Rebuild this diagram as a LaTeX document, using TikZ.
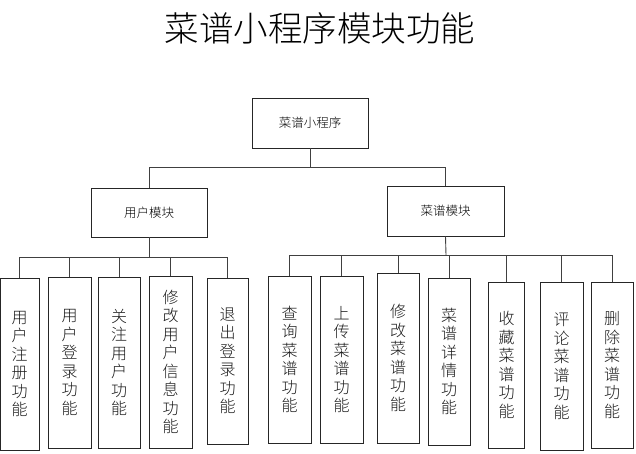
\documentclass[tikz,border=0pt]{standalone}
\usepackage{fontspec}
\newfontfamily\cjk{Noto Sans CJK SC}
\newfontfamily\cjkl{Noto Sans CJK SC Light}
\tikzset{
  box/.style={draw=black!85, line width=0.9pt, inner sep=0pt, align=center, font=\cjkl\fontsize{12.5}{14}\selectfont},
  leaf/.style={draw=black!85, line width=0.9pt, inner sep=0pt, align=center, font=\cjkl\fontsize{16}{18.5}\selectfont, text=black!90},
  conn/.style={draw=black!75, line width=0.9pt},
}
\begin{document}
\begin{tikzpicture}[x=1pt,y=-1pt]
\useasboundingbox (0,0) rectangle (636,453);
\node[font=\cjkl\fontsize{34.5}{38}\selectfont] (title) at (320,28) {菜谱小程序模块功能};
\node[box, minimum width=116pt, minimum height=50pt] (top) at (310,123) {菜谱小程序};
\node[box, minimum width=116pt, minimum height=49pt] (um) at (149,212.5) {用户模块};
\node[box, minimum width=117pt, minimum height=50pt] (rm) at (445.5,211) {菜谱模块};
\coordinate (b0) at (310,167);
\draw[conn] (top.south) -- (b0);
\draw[conn] (b0) -| (um.north);
\draw[conn] (b0) -| (rm.north);
% user leaves
\node[leaf, minimum width=39pt, minimum height=172pt] (l1) at (19.5,364) {用\\户\\注\\册\\功\\能};
\node[leaf, minimum width=43pt, minimum height=171pt] (l2) at (69.5,362.5) {用\\户\\登\\录\\功\\能};
\node[leaf, minimum width=42pt, minimum height=171pt] (l3) at (119,362.5) {关\\注\\用\\户\\功\\能};
\node[leaf, minimum width=43pt, minimum height=172pt] (l4) at (170.5,362) {修\\改\\用\\户\\信\\息\\功\\能};
\node[leaf, minimum width=41pt, minimum height=166pt] (l5) at (227.5,361) {退\\出\\登\\录\\功\\能};
\coordinate (b1) at (149,257);
\draw[conn] (um.south) -- (b1);
\foreach \n in {l1,l2,l3,l4,l5} \draw[conn] (b1) -| (\n.north);
% recipe leaves
\node[leaf, minimum width=43pt, minimum height=167pt] (r1) at (289.5,359.5) {查\\询\\菜\\谱\\功\\能};
\node[leaf, minimum width=43pt, minimum height=167pt] (r2) at (341.5,359.5) {上\\传\\菜\\谱\\功\\能};
\node[leaf, minimum width=42pt, minimum height=170pt] (r3) at (398,358) {修\\改\\菜\\谱\\功\\能};
\node[leaf, minimum width=42pt, minimum height=167pt] (r4) at (449,361.5) {菜\\谱\\详\\情\\功\\能};
\node[leaf, minimum width=36pt, minimum height=166pt] (r5) at (506.5,365) {收\\藏\\菜\\谱\\功\\能};
\node[leaf, minimum width=43pt, minimum height=168pt] (r6) at (561.5,366) {评\\论\\菜\\谱\\功\\能};
\node[leaf, minimum width=42pt, minimum height=166pt] (r7) at (612,365) {删\\除\\菜\\谱\\功\\能};
\coordinate (b2) at (446,255);
\draw[conn] (rm.south) -- (b2);
\foreach \n in {r1,r2,r3,r4,r5,r6,r7} \draw[conn] (b2) -| (\n.north);
\end{tikzpicture}
\end{document}
